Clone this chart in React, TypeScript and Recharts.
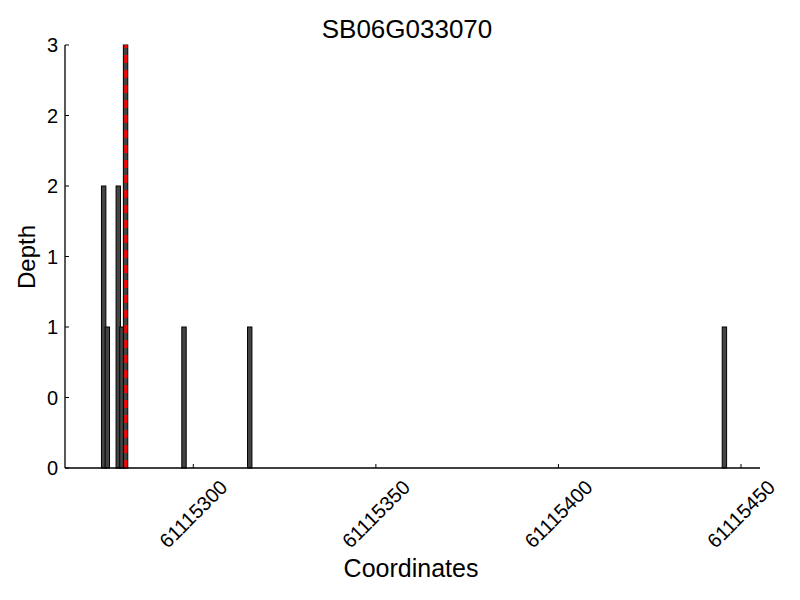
import React from "react";
import { ComposedChart, Bar, XAxis, YAxis, ReferenceLine } from "recharts";

const positions = [61115275.5, 61115276.5, 61115279.5, 61115280.5, 61115281.5, 61115297.5, 61115315.5, 61115445.5];
const depths = [2, 1, 2, 1, 3, 1, 1, 1];
const xTicks = [61115300, 61115350, 61115400, 61115450];
const yTicks = [0, 0.5, 1, 1.5, 2, 2.5, 3];
const markerPos = 61115281.5;
const xDomain = [61115264.86, 61115455.2];
const title = "SB06G033070";
const xLabel = "Coordinates";
const yLabel = "Depth";

const data = positions.map((p, i) => ({ pos: p, depth: depths[i] }));

const FONT = "'Liberation Sans', Arial, Helvetica, sans-serif";

const YTick = (props: any) => {
  const { x, y, payload } = props;
  return (
    <g>
      <line x1={x} x2={x + 4} y1={y} y2={y} stroke="#000" strokeWidth={1} />
      <text x={x - 7} y={y} textAnchor="end" dominantBaseline="central" fontSize={20} fill="#000" fontFamily={FONT}>
        {Math.floor(payload.value)}
      </text>
    </g>
  );
};

const XTick = (props: any) => {
  const { x, y, payload } = props;
  return (
    <g>
      <line x1={x} x2={x} y1={y} y2={y - 4} stroke="#000" strokeWidth={1} />
      <text
        transform={`translate(${x}, ${y + 46}) rotate(-45)`}
        textAnchor="middle"
        dominantBaseline="central"
        fontSize={20}
        fill="#000"
        fontFamily={FONT}
      >
        {payload.value}
      </text>
    </g>
  );
};

const BarShape = (props: any) => {
  const { x, y, width, height } = props;
  if (width == null || height == null) return null;
  const cx = x + width / 2;
  const w = 4.4;
  return <rect x={cx - w / 2} y={y} width={w} height={height} fill="#444444" stroke="#000" strokeWidth={1} />;
};

export default function App() {
  return (
    <div style={{ position: "absolute", left: 0, top: 0, width: 800, height: 600, background: "#fff", fontFamily: FONT }}>
      <ComposedChart
        width={800}
        height={600}
        data={data}
        margin={{ top: 45, right: 40, bottom: 32, left: 5 }}
      >
        <XAxis
          dataKey="pos"
          type="number"
          domain={xDomain}
          ticks={xTicks}
          allowDataOverflow
          height={100}
          tickSize={0}
          tickMargin={0}
          tick={<XTick />}
          axisLine={{ stroke: "#000", strokeWidth: 1.3 }}
          tickLine={false}
          interval={0}
        />
        <YAxis
          type="number"
          domain={[0, 3]}
          ticks={yTicks}
          width={60}
          tickSize={0}
          tickMargin={0}
          tick={<YTick />}
          axisLine={{ stroke: "#000", strokeWidth: 1.3 }}
          tickLine={false}
          interval={0}
        />
        <Bar dataKey="depth" fill="#444444" stroke="#000" strokeWidth={1} barSize={4} shape={BarShape} isAnimationActive={false} />
        <ReferenceLine x={markerPos} stroke="#ff0000" strokeWidth={3} strokeDasharray="8 7" />
      </ComposedChart>
      <svg width={800} height={600} style={{ position: "absolute", left: 0, top: 0, pointerEvents: "none" }}>
        <text x={407} y={38} textAnchor="middle" fontSize={26} fill="#000" fontFamily={FONT}>{title}</text>
        <text x={411} y={577} textAnchor="middle" fontSize={25} fill="#000" fontFamily={FONT}>{xLabel}</text>
        <text transform="translate(35, 257) rotate(-90)" textAnchor="middle" fontSize={24} fill="#000" fontFamily={FONT}>{yLabel}</text>
      </svg>
    </div>
  );
}
